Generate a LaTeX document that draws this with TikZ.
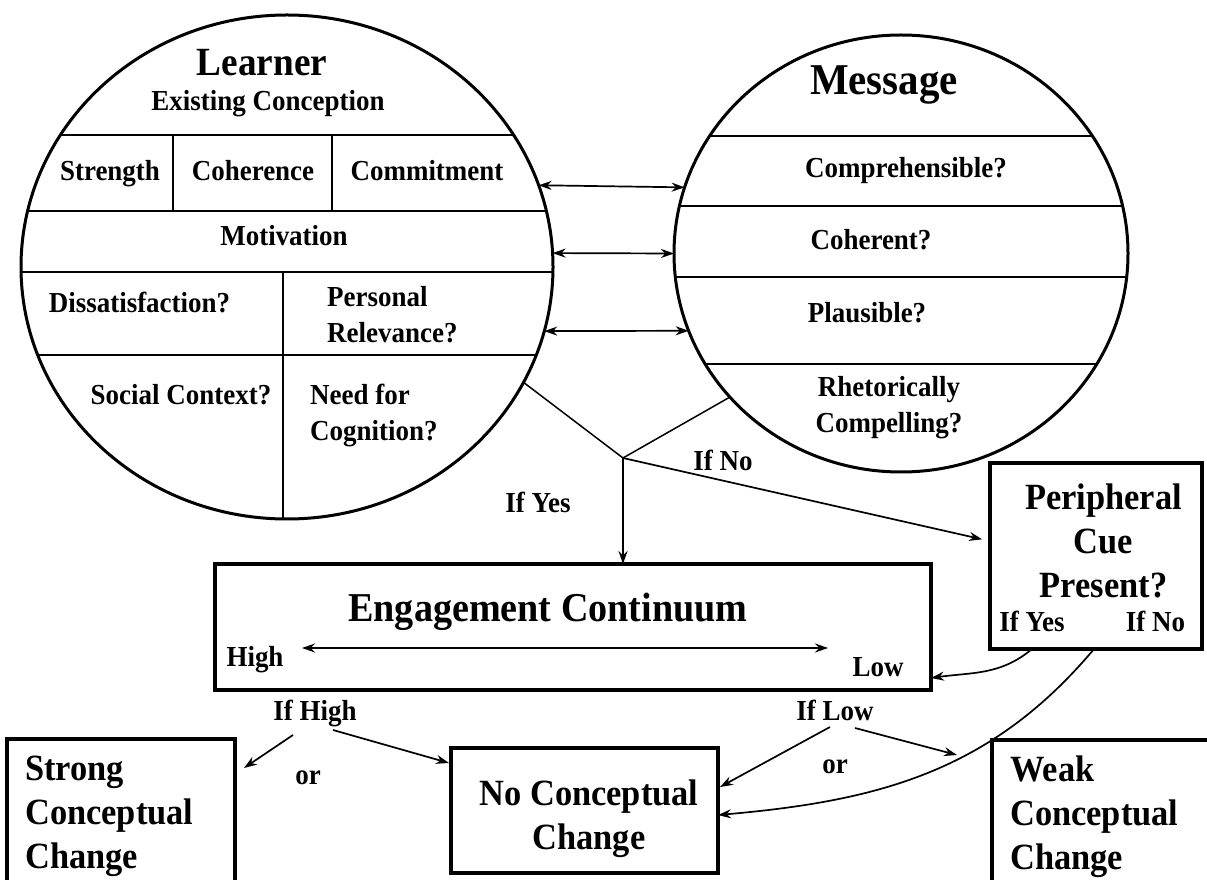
\documentclass[tikz,border=0pt]{standalone}
\usepackage{fontspec}
\setmainfont{Liberation Serif}[FakeStretch=0.93]
\usepackage{tikz}
\usetikzlibrary{arrows.meta,shapes.geometric,positioning}
\tikzstyle{arrow} = [line width=1.7pt,-{Stealth[length=13pt,width=9pt]}]
\tikzstyle{biarrow} = [line width=1.7pt,{Stealth[length=13pt,width=9pt]}-{Stealth[length=13pt,width=9pt]}]

\begin{document}
\begin{tikzpicture}[x=1pt, y=1pt,
    txt/.style={font=\fontsize{29}{36}\selectfont\bfseries, inner sep=0pt, align=center},
    big/.style={font=\fontsize{37}{44}\selectfont\bfseries},
    oneline/.style={text height=20pt, text depth=6pt},
    bubble/.style={ellipse, draw, line width=3pt, inner sep=0pt, outer sep=0pt},
    box/.style={rectangle, draw, line width=4pt, inner sep=0pt, outer sep=0pt},
    divider/.style={line width=2pt}]

\useasboundingbox (0,0) rectangle (1207,879);
\clip (0,0) rectangle (1207,879);

% Learner circle
\begin{scope}
\clip (287,612) ellipse [x radius=266pt, y radius=252pt];
\draw[divider] (0,744) -- (600,744);
\draw[divider] (0,668) -- (600,668);
\draw[divider] (0,607) -- (600,607);
\draw[divider] (0,524) -- (600,524);
\draw[divider] (173,744) -- (173,668);
\draw[divider] (332,744) -- (332,668);
\draw[divider] (283,607) -- (283,300);
\end{scope}
\node[bubble, minimum width=532pt, minimum height=504pt] (learner) at (287,612) {};

\node[txt, font=\fontsize{40}{44}\selectfont\bfseries] (learnertitle) at (262,816) {Learner};
\node[txt] (existing) at (268,775) {Existing Conception};
\node[txt, oneline] (strength) at (110,705) {Strength};
\node[txt, oneline] (coherence) at (253,705) {Coherence};
\node[txt, oneline] (commitment) at (427,705) {Commitment};
\node[txt, oneline] (motivation) at (284,640) {Motivation};
\node[txt, oneline] (dissatisfaction) at (139.5,573) {Dissatisfaction?};
\node[txt, align=left, anchor=west] (relevance) at (327,564) {Personal\\Relevance?};
\node[txt, oneline] (social) at (181,481) {Social Context?};
\node[txt, align=left, anchor=west] (cognition) at (310,464) {Need for\\Cognition?};

% Message circle
\begin{scope}
\clip (901,625.5) ellipse [x radius=227pt, y radius=218.5pt];
\draw[divider] (600,743) -- (1207,743);
\draw[divider] (600,673) -- (1207,673);
\draw[divider] (600,602) -- (1207,602);
\draw[divider] (600,515) -- (1207,515);
\end{scope}
\node[bubble, minimum width=454pt, minimum height=437pt] (message) at (901,625.5) {};

\node[txt, font=\fontsize{44}{48}\selectfont\bfseries] (messagetitle) at (884,794) {Message};
\node[txt, oneline] (comprehensible) at (906,708) {Comprehensible?};
\node[txt, oneline] (coherent) at (871,636) {Coherent?};
\node[txt, oneline] (plausible) at (867,563) {Plausible?};
\node[txt] (rhetoric) at (889,471.5) {Rhetorically\\Compelling?};

% Links between circles
\draw[biarrow] (learner.18) -- (message.163);
\draw[biarrow] (learner.3) -- (message.180);
\draw[biarrow] (learner.-14) -- (message.200);

% Engagement continuum
\node[box, minimum width=716pt, minimum height=126pt] (engage) at (573,252) {};
\node[txt, font=\fontsize{41}{44}\selectfont\bfseries] (engagetitle) at (548,267) {Engagement Continuum};
\node[txt] (high) at (255,219) {High};
\node[txt] (low) at (878,212) {Low};
\coordinate (highend) at (302,231);
\coordinate (lowend) at (828,231);
\draw[biarrow] (highend) -- (lowend);

% Peripheral cue
\node[box, minimum width=212pt, minimum height=186pt] (periph) at (1096,323) {};
\node[txt, big] (periphtext) at (1103.5,338) {Peripheral\\Cue\\Present?};
\node[txt, oneline] (cueyes) at (1032,255) {If Yes};
\node[txt, oneline] (cueno) at (1155.5,255) {If No};

% Outcomes
\node[box, minimum width=267pt, minimum height=125pt] (ncc) at (584.5,68.5) {};
\node[txt, big] (ncctext) at (589,60.5) {No Conceptual\\Change};
\node[box, minimum width=228pt, minimum height=151pt] (strong) at (121,64.5) {};
\node[txt, big, align=left, anchor=west] (strongtext) at (25,63) {Strong\\Conceptual\\Change};
\node[box, minimum width=240pt, minimum height=150pt] (weak) at (1112,64) {};
\node[txt, big, align=left, anchor=west] (weaktext) at (1010,62) {Weak\\Conceptual\\Change};

% Branch labels
\node[txt] (ifyes) at (538,377) {If Yes};
\node[txt] (ifno) at (723,419) {If No};
\node[txt] (ifhigh) at (315,166) {If High};
\node[txt] (orleft) at (308,101) {or};
\node[txt] (iflow) at (835,169) {If Low};
\node[txt] (orright) at (835,112) {or};

% Connections
\coordinate (fork) at (623,421);
\draw[line width=1.5pt] (learner.-26) -- (fork);
\draw[line width=1.5pt] (message.220) -- (fork);
\draw[arrow] (fork) -- (fork |- engage.north);
\draw[arrow, shorten >=8pt] (fork) -- (periph.172);

\draw[arrow] ([xshift=-64pt]periph.south) to[out=-140, in=8] ([yshift=-51pt]engage.east);
\draw[arrow] ([xshift=-2pt]periph.south) to[out=-130, in=5] ([yshift=-4.5pt]ncc.east);

\draw[arrow] ([shift={(-22,-22)}]ifhigh.center) -- ([shift={(9,-29)}]strong.north east);
\draw[arrow] ([shift={(18,-17)}]ifhigh.center) -- ([shift={(-2,-15)}]ncc.north west);
\draw[arrow] ([shift={(-5,-17)}]iflow.center) -- ([shift={(2,-39)}]ncc.north east);
\draw[arrow] ([shift={(20,-18)}]iflow.center) -- ([shift={(-35,-15)}]weak.north west);
\end{tikzpicture}
\end{document}
